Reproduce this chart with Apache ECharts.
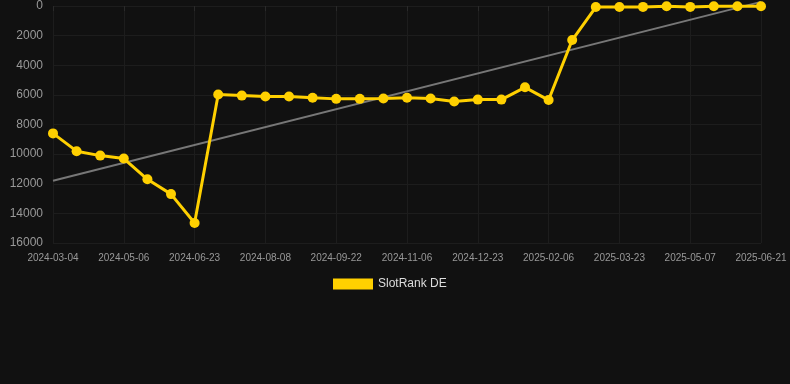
<!DOCTYPE html>
<html>
<head>
<meta charset="utf-8">
<script src="https://cdn.jsdelivr.net/npm/echarts@6/dist/echarts.min.js"></script>
<style>
html,body{margin:0;padding:0;background:#111111;}
#chart{width:790px;height:384px;}
</style>
</head>
<body>
<div id="chart"></div>
<script>
var categories = [
  '2024-03-04','2024-03-25','2024-04-15','2024-05-06','2024-05-22','2024-06-07',
  '2024-06-23','2024-07-08','2024-07-23','2024-08-08','2024-08-23','2024-09-07',
  '2024-09-22','2024-10-07','2024-10-22','2024-11-06','2024-11-21','2024-12-07',
  '2024-12-23','2025-01-07','2025-01-22','2025-02-06','2025-02-21','2025-03-08',
  '2025-03-23','2025-04-07','2025-04-22','2025-05-07','2025-05-22','2025-06-06',
  '2025-06-21'
];
var rankValues = [
  8600, 9800, 10100, 10300, 11700, 12700,
  14650, 5970, 6050, 6110, 6110, 6190,
  6270, 6270, 6250, 6190, 6250, 6450,
  6320, 6320, 5490, 6350, 2300, 70,
  70, 60, 20, 60, 20, 20,
  20
];
var trendValues = [11800, -280];
var yTicks = [0, 2000, 4000, 6000, 8000, 10000, 12000, 14000, 16000];

var chart = echarts.init(document.getElementById('chart'));
chart.setOption({
  backgroundColor: '#111111',
  animation: false,
  grid: {left: 53, right: 29, top: 6, bottom: 141},
  legend: {
    data: ['SlotRank DE'],
    top: 273,
    left: 328,
    itemWidth: 40,
    itemHeight: 11,
    itemGap: 10,
    textStyle: {color: '#dddddd', fontSize: 12, fontFamily: 'Arial, Liberation Sans, sans-serif'},
    icon: 'rect'
  },
  xAxis: {
    type: 'category',
    data: categories,
    boundaryGap: false,
    axisLine: {show: false},
    axisTick: {show: true, interval: 2, length: 5, lineStyle: {color: '#2a2a2a'}},
    axisLabel: {interval: 2, color: '#999999', fontSize: 10, margin: 10, fontFamily: 'Arial, Liberation Sans, sans-serif'},
    splitLine: {show: true, interval: 2, lineStyle: {color: '#1d1d1d', width: 1}}
  },
  yAxis: {
    type: 'value',
    inverse: true,
    min: yTicks[0],
    max: yTicks[yTicks.length - 1],
    interval: 2000,
    axisLine: {show: false},
    axisTick: {show: false},
    axisLabel: {color: '#999999', fontSize: 12, margin: 10, fontFamily: 'Arial, Liberation Sans, sans-serif',
      formatter: function (v) { return String(v); }},
    splitLine: {lineStyle: {color: '#1d1d1d', width: 1}}
  },
  series: [
    {
      name: 'Trend',
      type: 'line',
      data: [[categories[0], trendValues[0]], [categories[categories.length - 1], trendValues[1]]],
      symbol: 'none',
      lineStyle: {color: '#777777', width: 2},
      itemStyle: {color: '#777777'},
      clip: false,
      z: 1
    },
    {
      name: 'SlotRank DE',
      type: 'line',
      data: rankValues,
      symbol: 'circle',
      symbolSize: 10,
      lineStyle: {color: '#FFD000', width: 3},
      itemStyle: {color: '#FFD000'},
      clip: false,
      z: 2
    }
  ]
});
</script>
</body>
</html>
